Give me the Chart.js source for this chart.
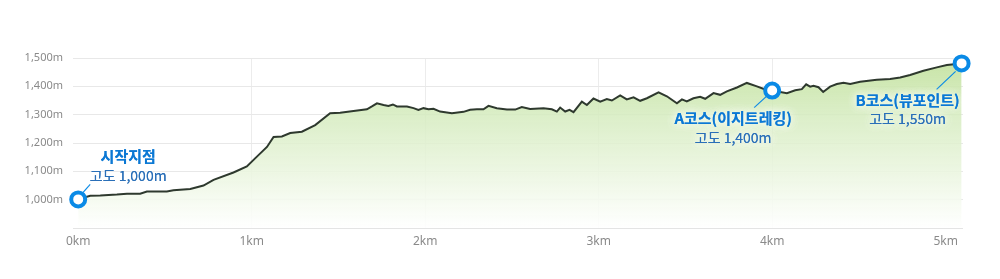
<!DOCTYPE html>
<html>
<head>
<meta charset="utf-8">
<script src="https://cdn.jsdelivr.net/npm/chart.js@4.4.1/dist/chart.umd.min.js"></script>
<style>
  html, body { margin: 0; padding: 0; background: #ffffff; }
  #wrap { width: 1000px; height: 279px; position: relative; }
</style>
</head>
<body>
<div id="wrap"><canvas id="c"></canvas></div>
<script>
// ---- data ----
const distKm = [0, 0.069, 0.127, 0.223, 0.281, 0.357, 0.396, 0.511, 0.549, 0.646, 0.722, 0.780, 0.895, 0.972,
  1.030, 1.088, 1.126, 1.174, 1.222, 1.289, 1.366, 1.452, 1.510, 1.587, 1.664, 1.693, 1.722, 1.760, 1.788, 1.814,
  1.837, 1.895, 1.933, 1.961, 1.990, 2.019, 2.048, 2.086, 2.154, 2.221, 2.259, 2.298, 2.336, 2.365, 2.413, 2.471,
  2.519, 2.557, 2.605, 2.682, 2.730, 2.759, 2.778, 2.807, 2.832, 2.855, 2.903, 2.932, 2.970, 3.009, 3.047, 3.076,
  3.124, 3.162, 3.201, 3.239, 3.278, 3.345, 3.393, 3.451, 3.480, 3.508, 3.546, 3.585, 3.614, 3.662, 3.700, 3.739,
  3.797, 3.854, 3.912, 3.960, 4.000, 4.085, 4.133, 4.171, 4.196, 4.219, 4.238, 4.267, 4.294, 4.334, 4.373, 4.411,
  4.450, 4.507, 4.603, 4.680, 4.738, 4.795, 4.872, 4.949, 5.007, 5.092];
const altitudeM = [1001, 1014, 1015, 1018, 1021, 1021, 1029, 1029, 1033, 1038, 1050, 1070, 1096, 1117,
  1152, 1186, 1221, 1223, 1235, 1240, 1263, 1305, 1307, 1313, 1319, 1329, 1340, 1334, 1331, 1336,
  1329, 1329, 1323, 1317, 1323, 1319, 1321, 1311, 1305, 1310, 1317, 1319, 1319, 1331, 1323, 1318,
  1318, 1327, 1320, 1323, 1319, 1311, 1325, 1311, 1317, 1309, 1346, 1334, 1357, 1346, 1355, 1350,
  1368, 1354, 1361, 1349, 1358, 1379, 1365, 1340, 1354, 1347, 1358, 1363, 1356, 1376, 1370, 1382,
  1396, 1412, 1400, 1389, 1385, 1376, 1386, 1390, 1407, 1399, 1402, 1397, 1380, 1399, 1408, 1413,
  1408, 1416, 1423, 1426, 1431, 1440, 1455, 1467, 1475, 1481];
const xTicksKm = [0, 1, 2, 3, 4, 5];
const yTicksM = [1000, 1100, 1200, 1300, 1400, 1500];
// markers: data index, title, subtitle
const markerIndex = [0, 82, distKm.length - 1];
const markerTitle = ['시작지점', 'A코스(이지트레킹)', 'B코스(뷰포인트)'];
const markerSub = ['고도 1,000m', '고도 1,400m', '고도 1,550m'];

// ---- styles ----
const BLUE = '#0a8ae6';
const TITLE_BLUE = '#0b78d4';
const SUB_BLUE = '#2a6fb8';
// label placement relative to marker (dx, dyTitle, dySub, leader from/to)
const markerStyle = [
  { dx: 50, dyT: -43, dyS: -24, l1: [4, -6], l2: [12, -15] },
  { dx: -39, dyT: 28, dyS: 47, l1: [-6, 6], l2: [-18, 17] },
  { dx: -54, dyT: 37, dyS: 55, l1: [-6, 8], l2: [-25, 26] }
];

const points = distKm.map((d, i) => ({ x: d, y: altitudeM[i] }));

const annot = {
  id: 'annot',
  afterDatasetsDraw(chart) {
    const ctx = chart.ctx;
    const meta = chart.getDatasetMeta(0);
    markerIndex.forEach((idx, k) => {
      const p = meta.data[idx];
      const s = markerStyle[k];
      ctx.save();
      // leader line
      ctx.strokeStyle = BLUE;
      ctx.lineWidth = 1.2;
      ctx.beginPath();
      ctx.moveTo(p.x + s.l1[0], p.y + s.l1[1]);
      ctx.lineTo(p.x + s.l2[0], p.y + s.l2[1]);
      ctx.stroke();
      ctx.textAlign = 'center';
      ctx.textBaseline = 'middle';
      // halos
      ctx.shadowColor = 'rgba(255,255,255,1)';
      ctx.shadowBlur = 8;
      ctx.font = 'bold 15px "Noto Sans CJK KR", "Noto Sans", sans-serif';
      ctx.fillStyle = TITLE_BLUE;
      ctx.fillText(markerTitle[k], p.x + s.dx, p.y + s.dyT);
      ctx.fillText(markerTitle[k], p.x + s.dx, p.y + s.dyT);
      ctx.font = '14px "Noto Sans CJK KR", "Noto Sans", sans-serif';
      ctx.fillStyle = SUB_BLUE;
      ctx.fillText(markerSub[k], p.x + s.dx, p.y + s.dyS);
      ctx.fillText(markerSub[k], p.x + s.dx, p.y + s.dyS);
      ctx.restore();
    });
    // redraw marker circles on top
    markerIndex.forEach(idx => {
      const p = meta.data[idx];
      ctx.save();
      ctx.beginPath();
      ctx.arc(p.x, p.y, 7, 0, Math.PI * 2);
      ctx.fillStyle = '#fff';
      ctx.fill();
      ctx.lineWidth = 4;
      ctx.strokeStyle = BLUE;
      ctx.stroke();
      ctx.restore();
    });
  }
};

new Chart(document.getElementById('c'), {
  type: 'line',
  data: {
    datasets: [{
      data: points,
      borderColor: '#2e392e',
      borderWidth: 2,
      tension: 0,
      pointRadius: 0,
      pointHoverRadius: 0,
      clip: false,
      fill: 'start',
      backgroundColor: (c) => {
        const a = c.chart.chartArea;
        if (!a) return 'rgba(200,228,170,0.6)';
        const g = c.chart.ctx.createLinearGradient(0, a.top, 0, a.bottom);
        g.addColorStop(0, 'rgba(196,226,160,0.95)');
        g.addColorStop(0.35, 'rgba(214,236,192,0.85)');
        g.addColorStop(1, 'rgba(255,255,255,0.9)');
        return g;
      }
    }]
  },
  options: {
    responsive: true,
    maintainAspectRatio: false,
    animation: false,
    devicePixelRatio: 1,
    layout: { padding: { top: 58, right: 37, left: 0, bottom: 0 } },
    plugins: { legend: { display: false }, tooltip: { enabled: false } },
    scales: {
      x: {
        type: 'linear',
        min: -0.03,
        max: 5.1,
        afterBuildTicks: (ax) => { ax.ticks = xTicksKm.map(v => ({ value: v })); },
        afterFit: (ax) => { ax.height = 51; },
        grid: {
          drawTicks: false,
          color: (c) => (c.tick && (c.tick.value === 0 || c.tick.value === 5)) ? 'rgba(0,0,0,0)' : '#ececec',
          lineWidth: 1
        },
        border: { display: false },
        ticks: {
          padding: 6,
          color: '#8a8a8a',
          font: { family: '"Noto Sans", sans-serif', size: 12 },
          callback: (v) => v + 'km',
          maxRotation: 0
        }
      },
      y: {
        min: 900,
        max: 1500,
        afterBuildTicks: (ax) => { ax.ticks = [900].concat(yTicksM).map(v => ({ value: v })); },
        afterFit: (ax) => { ax.width = 73; },
        grid: { drawTicks: false, color: (c) => c.tick && c.tick.value === 900 ? '#e4e4e4' : '#e8e8e8', lineWidth: 1 },
        border: { display: false },
        ticks: {
          padding: 10,
          color: '#8a8a8a',
          font: { family: '"Noto Sans", sans-serif', size: 11 },
          callback: (v) => v === 900 ? '' : v.toLocaleString('en-US') + 'm'
        }
      }
    }
  },
  plugins: [annot]
});
</script>
</body>
</html>
